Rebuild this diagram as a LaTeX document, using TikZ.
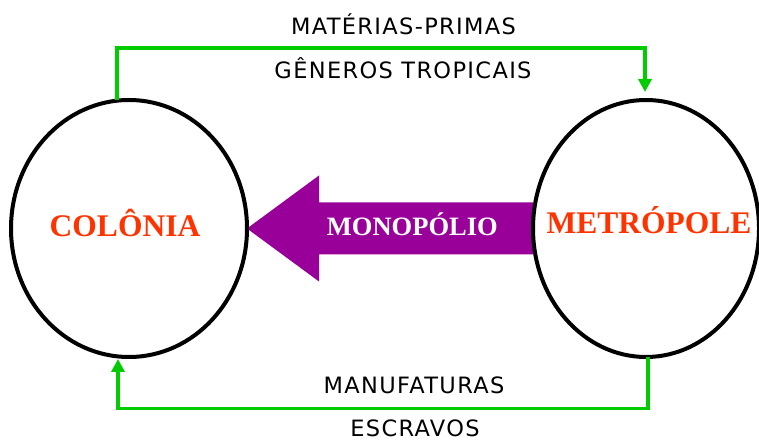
\documentclass[tikz,border=0pt]{standalone}
\usepackage{fontspec}
\usetikzlibrary{shapes.geometric,arrows.meta,backgrounds,calc}
\newfontfamily\tradefont[LetterSpace=6]{DejaVu Sans}
\newfontfamily\placefont{Liberation Serif}

\begin{document}
\begin{tikzpicture}[x=1pt, y=1pt,
    region/.style={ellipse, draw=black, line width=4pt, inner sep=0pt, outer sep=0pt, minimum height=257pt},
    placename/.style={text=PlaceRed, font=\placefont\bfseries\fontsize{31.5}{31.5}\selectfont, inner sep=0pt, anchor=base},
    goods/.style={font=\tradefont\fontsize{22.5}{22.5}\selectfont, inner sep=0pt, anchor=base},
    trade/.style={draw=TradeGreen, line width=3.5pt, -{Triangle[length=13pt, width=13pt]}}]
\definecolor{TradeGreen}{HTML}{00CC00};
\definecolor{PlaceRed}{HTML}{FF3300};
\definecolor{MonoPurple}{HTML}{990099};

\useasboundingbox (0,0) rectangle (759,441);

% colonia and metropole
\node[region, minimum width=236pt] (colonia) at (129,212.5) {};
\node[region, minimum width=226pt] (metropole) at (646,212.5) {};
\node[placename] (colname) at (125,204) {COLÔNIA};
\node[placename] (metname) at (649,207) {METRÓPOLE};

% monopolio arrow
\begin{scope}[on background layer]
\fill[MonoPurple] (colonia.east) -- ++(72,53) |- ([yshift=26pt]metropole.west)
    -- ([yshift=-26pt]metropole.west) -| ([shift={(72pt,-53pt)}]colonia.east) -- cycle;
\end{scope}
\node[placename, text=white, font=\placefont\bfseries\fontsize{26.5}{26.5}\selectfont] (mononame)
    at ($(colonia.east)!0.578!(metropole.west) + (0,-7.5)$) {MONOPÓLIO};

% trade routes
\draw[trade] ([xshift=-12pt]colonia.north) -- ++(0,52) -| ([shift={(-1pt,8pt)}]metropole.north);
\draw[trade] ([xshift=2pt]metropole.south) -- ++(0,-51.5) -| ([shift={(-11pt,-2pt)}]colonia.south);

\node[goods] (materias) at (403.5,406.7) {MATÉRIAS-PRIMAS};
\node[goods] (generos) at (403,362) {GÊNEROS TROPICAIS};
\node[goods] (manufaturas) at (414,47) {MANUFATURAS};
\node[goods] (escravos) at (415,5) {ESCRAVOS};
\end{tikzpicture}
\end{document}
